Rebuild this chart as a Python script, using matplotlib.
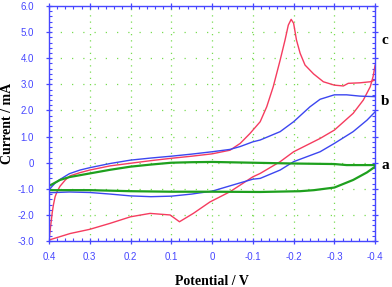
import matplotlib.pyplot as plt
import matplotlib.ticker as mticker

# curve c (red) - forward and return scans
c_fwd_x = [0.4, 0.398, 0.395, 0.392, 0.389, 0.385, 0.38, 0.373, 0.36, 0.348, 0.324, 0.3, 0.25, 0.2, 0.15, 0.1,
           0.05, 0.0, -0.044, -0.069, -0.093, -0.118, -0.134, -0.15, -0.167, -0.179, -0.187, -0.194, -0.2,
           -0.207, -0.216, -0.228, -0.249, -0.273, -0.3, -0.322, -0.334, -0.363, -0.388, -0.4]
c_fwd_y = [-3.0, -2.7, -2.3, -1.9, -1.6, -1.3, -1.1, -0.9, -0.66, -0.5, -0.38, -0.28, -0.12, -0.02, 0.08, 0.17,
           0.25, 0.34, 0.48, 0.74, 1.12, 1.57, 2.14, 2.91, 3.93, 4.70, 5.27, 5.49, 5.34,
           4.70, 4.19, 3.74, 3.40, 3.10, 2.97, 2.94, 3.04, 3.06, 3.10, 3.17]
c_rev_x = [-0.4, -0.395, -0.388, -0.371, -0.346, -0.3, -0.265, -0.2, -0.167, -0.118, -0.1, -0.044, 0.005,
           0.046, 0.08, 0.087, 0.103, 0.152, 0.2, 0.25, 0.3, 0.348, 0.4]
c_rev_y = [3.74, 3.3, 2.91, 2.40, 1.89, 1.25, 0.93, 0.42, 0.04, -0.41, -0.54, -1.11, -1.5,
           -1.94, -2.26, -2.18, -2.0, -1.94, -2.07, -2.32, -2.55, -2.71, -2.96]

# curve b (blue)
b_fwd_x = [0.4, 0.395, 0.385, 0.373, 0.35, 0.324, 0.3, 0.25, 0.2, 0.15, 0.1, 0.05, 0.0, -0.044, -0.069,
           -0.1, -0.118, -0.167, -0.2, -0.24, -0.265, -0.3, -0.33, -0.363, -0.4]
b_fwd_y = [-1.05, -0.95, -0.78, -0.64, -0.42, -0.28, -0.19, -0.03, 0.10, 0.18, 0.25, 0.33, 0.42, 0.51, 0.62,
           0.80, 0.87, 1.19, 1.57, 2.14, 2.43, 2.60, 2.60, 2.55, 2.53]
b_rev_x = [-0.4, -0.38, -0.346, -0.3, -0.265, -0.2, -0.167, -0.118, -0.1, -0.069, -0.03, 0.0, 0.037, 0.05,
           0.1, 0.15, 0.2, 0.25, 0.3, 0.35, 0.4]
b_rev_y = [1.95, 1.63, 1.19, 0.74, 0.42, 0.04, -0.28, -0.60, -0.63, -0.77, -0.95, -1.09, -1.17, -1.2,
           -1.28, -1.3, -1.27, -1.2, -1.14, -1.12, -1.15]

# curve a (green)
a_fwd_x = [0.4, 0.373, 0.35, 0.3, 0.25, 0.2, 0.15, 0.1, 0.05, 0.0, -0.1, -0.2, -0.3, -0.33, -0.4]
a_fwd_y = [-0.89, -0.66, -0.55, -0.41, -0.27, -0.15, -0.07, 0.0, 0.02, 0.03, 0.0, -0.03, -0.05, -0.09, -0.09]
a_rev_x = [-0.4, -0.38, -0.346, -0.3, -0.25, -0.216, -0.118, 0.0, 0.1, 0.2, 0.3, 0.4]
a_rev_y = [-0.15, -0.37, -0.66, -0.95, -1.05, -1.09, -1.12, -1.11, -1.11, -1.09, -1.05, -1.05]

curve_labels = ['a', 'b', 'c']
label_y = [-0.12, 2.33, 4.67]

axis_blue = '#4646ff'
red = '#f53c5f'
blue = '#3c46f0'
green = '#1ea01e'

fig = plt.figure(figsize=(3.92, 2.87), dpi=100)
ax = fig.add_axes([0.125, 0.160, 0.832, 0.819])

ax.plot(c_fwd_x, c_fwd_y, color=red, lw=1.0)
ax.plot(c_rev_x, c_rev_y, color=red, lw=1.0)
ax.plot(b_fwd_x, b_fwd_y, color=blue, lw=1.0)
ax.plot(b_rev_x, b_rev_y, color=blue, lw=1.0)
ax.plot(a_fwd_x, a_fwd_y, color=green, lw=1.6)
ax.plot(a_rev_x, a_rev_y, color=green, lw=1.6)

ax.set_xlim(0.4, -0.4)
ax.set_ylim(-3.0, 6.0)
ax.xaxis.set_major_locator(mticker.MultipleLocator(0.1))
ax.xaxis.set_minor_locator(mticker.MultipleLocator(0.02))
ax.yaxis.set_major_locator(mticker.MultipleLocator(1.0))
ax.yaxis.set_minor_locator(mticker.MultipleLocator(0.2))


def fmt(v, pos):
    if abs(v) < 1e-9:
        return '0'
    return '%.1f' % v


ax.xaxis.set_major_formatter(mticker.FuncFormatter(fmt))
ax.yaxis.set_major_formatter(mticker.FuncFormatter(fmt))

for v in [0.3, 0.2, 0.1, 0.0, -0.1, -0.2, -0.3]:
    ax.axvline(v, color='#78dc50', lw=0.9, ls=(0, (1, 4)), zorder=0)
for v in [5, 4, 3, 2, 1, 0, -1, -2]:
    ax.axhline(v, color='#78dc50', lw=0.9, ls=(0, (1, 8)), zorder=0)

for s in ax.spines.values():
    s.set_color(axis_blue)
    s.set_linewidth(1.0)
ax.tick_params(which='both', direction='in', top=True, right=True, colors=axis_blue,
               labelsize=7, labelcolor=axis_blue)
ax.tick_params(which='major', length=4, width=0.9, direction='inout')
ax.tick_params(which='minor', length=2.5, width=0.8)
ax.tick_params(axis='y', which='major', pad=9)
ax.tick_params(axis='x', which='major', pad=6)
for lab in ax.get_xticklabels() + ax.get_yticklabels():
    lab.set_family('Liberation Sans')

serif = 'Liberation Serif'
ax.set_xlabel('Potential / V', family=serif, fontweight='bold', fontsize=10, labelpad=9)
ax.set_ylabel('Current / mA', family=serif, fontweight='bold', fontsize=10, labelpad=2)

for lab, y in zip(curve_labels, label_y):
    ax.text(1.018, y, lab, transform=ax.get_yaxis_transform(), family=serif, fontweight='bold',
            fontsize=11, va='center', ha='left')

fig.savefig('out.png', dpi=100)
